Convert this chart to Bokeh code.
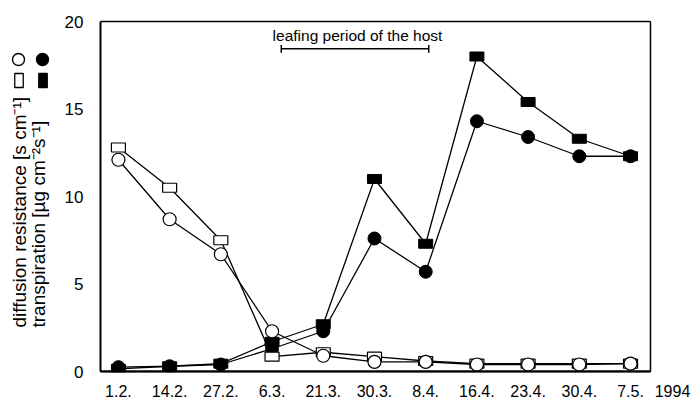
from bokeh.plotting import figure
from bokeh.models import Range1d, FixedTicker, Label, ColumnDataSource
from bokeh.embed import file_html
from bokeh.resources import INLINE
from math import pi

dates = ["1.2.", "14.2.", "27.2.", "6.3.", "21.3.", "30.3.", "8.4.", "16.4.", "23.4.", "30.4.", "7.5."]
year_label = "1994"
xs = list(range(len(dates)))
resist_circle = [12.1, 8.7, 6.7, 2.3, 0.9, 0.55, 0.55, 0.4, 0.4, 0.4, 0.45]
resist_square = [12.8, 10.5, 7.5, 0.85, 1.1, 0.85, 0.6, 0.45, 0.45, 0.45, 0.45]
transp_circle = [0.25, 0.3, 0.4, 1.3, 2.3, 7.6, 5.7, 14.3, 13.4, 12.3, 12.3]
transp_square = [0.15, 0.3, 0.45, 1.7, 2.7, 11.0, 7.3, 18.0, 15.4, 13.3, 12.3]
y_ticks = [0, 5, 10, 15, 20]
leaf_period = [3.18, 6.06]
leaf_level = 18.44
label_resist = "diffusion resistance [s cm\u207b\u00b9]"
label_transp = "transpiration [\u00b5g cm\u207b\u00b2s\u207b\u00b9]"
leaf_text = "leafing period of the host"

FONT = "Liberation Sans"

# layout constants (the frame covers the whole canvas; axes are pinned to the plot box)
W, H = 693, 403
BOX_LEFT_PX, BOX_TOP_PX, BOX_BOTTOM_PX = 100, 21, 371
PX_PER_X = 51.21
X0, X1 = -0.35, 10.39          # plot box in data units
Y0, Y1 = 0, 20
YEAR_X = 10.82
PX_PER_Y = (BOX_BOTTOM_PX - BOX_TOP_PX) / (Y1 - Y0)
XSTART = X0 - BOX_LEFT_PX / PX_PER_X
XEND = XSTART + W / PX_PER_X
YEND = Y1 + BOX_TOP_PX / PX_PER_Y
YSTART = Y0 - (H - BOX_BOTTOM_PX) / PX_PER_Y


def sx(px):
    return XSTART + px / PX_PER_X


def sy(py):
    return YEND - py / PX_PER_Y


p = figure(width=W, height=H, output_backend="svg", toolbar_location=None,
           x_range=Range1d(XSTART, XEND), y_range=Range1d(YSTART, YEND),
           min_border=0)
p.grid.visible = False
p.outline_line_color = None
p.background_fill_color = "white"
p.border_fill_color = "white"

p.xaxis.ticker = FixedTicker(ticks=xs + [YEAR_X])
overrides = {i: d for i, d in zip(xs, dates)}
overrides[YEAR_X] = year_label
p.xaxis.major_label_overrides = overrides
p.xaxis.fixed_location = Y0
p.yaxis.ticker = FixedTicker(ticks=y_ticks)
p.yaxis.fixed_location = X0
for ax in (p.xaxis, p.yaxis):
    ax.axis_line_color = None
    ax.major_tick_line_color = None
    ax.minor_tick_line_color = None
    ax.major_label_text_font = FONT
    ax.major_label_text_color = "black"
p.xaxis.major_label_text_font_size = "16px"
p.yaxis.major_label_text_font_size = "17px"
p.xaxis.major_label_standoff = 7
p.yaxis.major_label_standoff = 11

# plot box (bottom, left, top, right)
p.segment(x0=[X0, X0, X0, X1], y0=[Y0, Y0, Y1, Y0], x1=[X1, X0, X1, X1], y1=[Y0, Y1, Y1, Y1],
          line_color="black", line_width=[2, 2, 1.5, 1.5])

src = ColumnDataSource(dict(x=xs, rc=resist_circle, rs=resist_square, tc=transp_circle, ts=transp_square))

for col in ("ts", "tc", "rs", "rc"):
    p.line("x", col, source=src, line_color="black", line_width=1.3)

p.scatter("x", "tc", source=src, marker="circle", size=13, fill_color="black", line_color="black")
p.rect("x", "ts", width=14, height=9, width_units="screen", height_units="screen", source=src,
       fill_color="black", line_color="black")
p.rect("x", "rs", width=14, height=9, width_units="screen", height_units="screen", source=src,
       fill_color="white", line_color="black", line_width=1.2)
p.scatter("x", "rc", source=src, marker="circle", size=13, fill_color="white", line_color="black", line_width=1.2)

# keep marks below the box bottom hidden (the reference clips them at the axis)
p.quad(left=[X0 - 0.2], right=[X1 + 0.2], top=[Y0 - 0.06], bottom=[YSTART + 1.0],
       fill_color="white", line_color=None)
p.segment(x0=[X0], y0=[Y0], x1=[X1], y1=[Y0], line_color="black", line_width=2)

# leafing period interval
p.segment(x0=[leaf_period[0]], y0=[leaf_level], x1=[leaf_period[1]], y1=[leaf_level], line_color="black", line_width=1.5)
p.segment(x0=leaf_period, y0=[leaf_level - 0.22] * 2, x1=leaf_period, y1=[leaf_level + 0.22] * 2,
          line_color="black", line_width=1.5)
p.add_layout(Label(x=sx(357), y=sy(35), text=leaf_text, text_font=FONT,
                   text_font_size="15.5px", text_align="center", text_baseline="middle", text_color="black"))

# y-axis label: two rotated lines plus marker keys
for mx, txt in ((19, label_resist), (37.5, label_transp)):
    p.add_layout(Label(x=sx(mx), y=sy(327), text=txt, angle=pi / 2, text_font=FONT, text_font_size="19px",
                       text_align="left", text_baseline="middle", text_color="black"))
key_x = [sx(18.5), sx(42.5)]
p.rect(x=key_x, y=[sy(80)] * 2, width=8.5, height=14, width_units="screen", height_units="screen",
       fill_color=["white", "black"], line_color="black", line_width=1.3)
p.scatter(x=[sx(18), sx(42)], y=[sy(59)] * 2, marker="circle", size=12,
          fill_color=["white", "black"], line_color="black", line_width=1.4)

open("out.html", "w").write(file_html(p, INLINE))
